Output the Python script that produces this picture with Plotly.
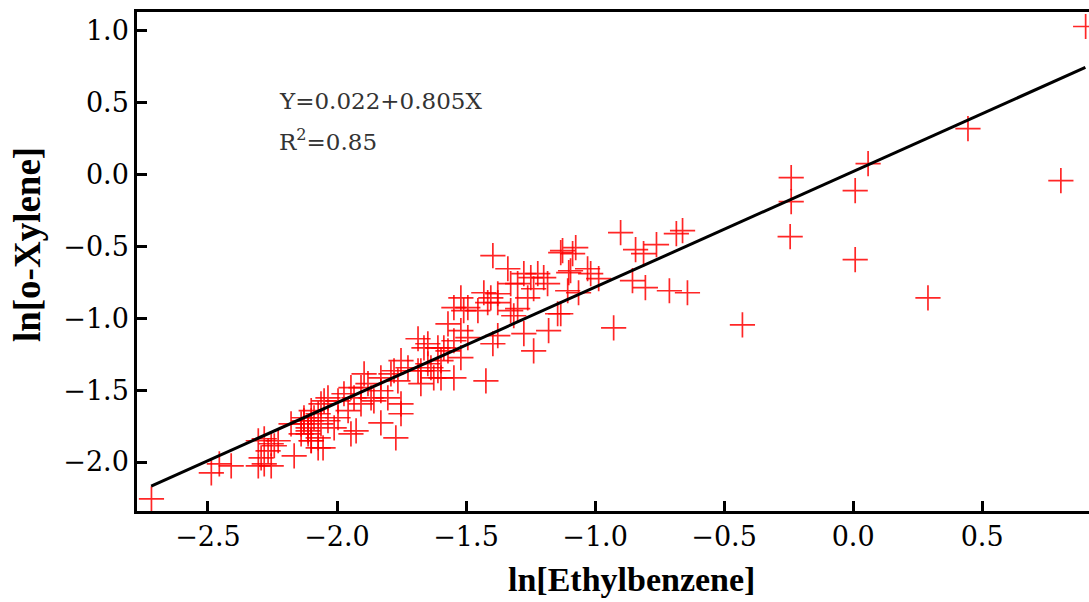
import numpy as np
import plotly.graph_objects as go

# ln[Ethylbenzene] values (x) and ln[o-Xylene] values (y)
ln_ethylbenzene = [
    0.901, 0.445, 0.058, 0.008, 0.008, 0.290, 0.805, -0.240, -0.240, -0.244,
    -0.429, -0.642, -0.661, -0.685, -0.762, -0.901, -0.843, -0.812, -0.855, -0.805,
    -0.712, -0.928, -1.075, -1.087, -1.133, -1.095, -1.029, -1.017, -0.986, -1.106,
    -1.064, -1.133, -1.396, -1.338, -1.126, -1.102, -1.276, -1.249, -1.222, -1.199,
    -1.300, -1.327, -1.184, -1.520, -1.431, -1.404, -1.377, -1.377, -1.416, -1.493,
    -1.509, -1.454, -1.327, -1.300, -1.315, -1.261, -1.238, -1.145, -1.180, -1.238,
    -1.276, -1.377, -1.396, -1.520, -1.493, -1.547, -1.648, -1.609, -1.570, -1.520,
    -1.597, -1.636, -1.675, -1.547, -1.423, -1.625, -1.675, -1.686, -1.586, -1.752,
    -1.725, -1.686, -1.648, -1.609, -1.597, -1.791, -1.764, -1.830, -1.895, -1.880,
    -1.907, -1.946, -1.973, -1.934, -1.868, -1.830, -1.803, -1.752, -2.035, -1.996,
    -2.062, -2.100, -2.089, -2.035, -1.996, -2.011, -2.112, -2.128, -2.139, -2.100,
    -2.073, -1.830, -1.752, -1.772, -1.946, -1.926, -1.907, -1.857, -1.957, -1.547,
    -1.570, -1.663, -1.779, -2.719, -2.487, -2.456, -2.410, -2.305, -2.282, -2.255,
    -2.294, -2.267, -2.243, -2.228, -2.305, -2.282, -2.255, -2.166, -2.178, -2.139,
    -2.128, -2.112, -2.100, -2.054, -2.073, -2.050, -2.073, -2.062, -2.100, -2.112,
]
ln_o_xylene = [
    1.031, 0.320, 0.077, -0.111, -0.592, -0.857, -0.042, -0.021, -0.188, -0.432,
    -1.045, -0.822, -0.390, -0.411, -0.487, -0.404, -0.522, -0.550, -0.738, -0.787,
    -0.808, -1.066, -0.508, -0.550, -0.543, -0.669, -0.655, -0.689, -0.724, -0.808,
    -0.822, -0.968, -0.564, -0.655, -0.529, -0.682, -0.689, -0.717, -0.689, -0.717,
    -0.759, -0.759, -0.759, -0.857, -0.822, -0.857, -0.829, -0.891, -0.891, -0.926,
    -0.947, -0.947, -0.947, -0.933, -0.982, -0.857, -0.794, -0.968, -1.086, -1.226,
    -1.107, -1.121, -1.177, -1.086, -1.135, -1.156, -1.177, -1.205, -1.226, -1.274,
    -1.295, -1.344, -1.365, -1.414, -1.435, -1.414, -1.455, -1.142, -1.205, -1.295,
    -1.344, -1.365, -1.316, -1.365, -1.414, -1.386, -1.435, -1.414, -1.386, -1.455,
    -1.483, -1.483, -1.525, -1.553, -1.553, -1.504, -1.553, -1.595, -1.553, -1.574,
    -1.595, -1.643, -1.692, -1.713, -1.692, -1.762, -1.762, -1.713, -1.804, -1.852,
    -1.901, -1.727, -1.664, -1.832, -1.804, -1.783, -1.595, -1.574, -1.643, -0.926,
    -1.038, -1.205, -1.365, -2.256, -2.075, -2.013, -2.027, -2.027, -2.013, -2.027,
    -1.971, -1.922, -1.887, -1.852, -1.852, -1.838, -1.873, -1.957, -1.734, -1.734,
    -1.692, -1.783, -1.852, -1.901, -1.832, -1.574, -1.664, -1.734, -1.713, -1.804,
]

# Linear fit reported on the chart
fit_intercept = 0.022
fit_slope = 0.805
fit_x_range = [-2.72, 0.90]
fit_label = "Y=0.022+0.805X"
r2_label = "R<sup>2</sup>=0.85"

x_title = "<b>ln[Ethylbenzene]</b>"
y_title = "<b>ln[o-Xylene]</b>"
x_tickvals = [-2.5, -2.0, -1.5, -1.0, -0.5, 0.0, 0.5]
x_ticktext = ["−2.5", "−2.0", "−1.5", "−1.0", "−0.5", "0.0", "0.5"]
y_tickvals = [1.0, 0.5, 0.0, -0.5, -1.0, -1.5, -2.0]
y_ticktext = ["1.0", "0.5", "0.0", "−0.5", "−1.0", "−1.5", "−2.0"]

fit_x = np.array(fit_x_range)
fit_y = fit_intercept + fit_slope * fit_x

fig = go.Figure()
fig.add_trace(go.Scatter(
    x=ln_ethylbenzene, y=ln_o_xylene, mode="markers",
    marker=dict(symbol="cross-thin", size=18, color="red",
                line=dict(color="rgba(255,0,0,0.85)", width=1.7)),
    showlegend=False,
))
fig.add_trace(go.Scatter(
    x=fit_x, y=fit_y, mode="lines",
    line=dict(color="black", width=3), showlegend=False,
))

tick_font = dict(family="DejaVu Serif", size=27, color="black")
title_family = "Liberation Serif"
fig.update_layout(
    width=1089, height=602,
    margin=dict(l=137, r=0, t=12, b=91, autoexpand=False),
    paper_bgcolor="white", plot_bgcolor="white",
    xaxis=dict(
        range=[-2.775, 0.914], tickvals=x_tickvals, ticktext=x_ticktext,
        showgrid=False, zeroline=False, showline=True, linecolor="black",
        linewidth=2.5, mirror=True, ticks="inside", ticklen=10, tickwidth=2.5,
        tickcolor="black", tickfont=tick_font, ticklabelstandoff=0,
        automargin=False,
    ),
    yaxis=dict(
        range=[-2.341, 1.132], tickvals=y_tickvals, ticktext=y_ticktext,
        showgrid=False, zeroline=False, showline=True, linecolor="black",
        linewidth=2.5, ticks="inside", ticklen=10, tickwidth=2.5,
        tickcolor="black", tickfont=tick_font, ticklabelstandoff=0,
        automargin=False,
    ),
    annotations=[
        dict(text=fit_label, xref="paper", yref="paper", x=0.147, y=0.822,
             xanchor="left", yanchor="middle", showarrow=False,
             font=dict(family="DejaVu Serif", size=23, color="#333")),
        dict(text=r2_label, xref="paper", yref="paper", x=0.147, y=0.744,
             xanchor="left", yanchor="middle", showarrow=False,
             font=dict(family="DejaVu Serif", size=23, color="#333")),
        dict(text=x_title, xref="paper", yref="paper", x=0.519, y=-0.138,
             xanchor="center", yanchor="middle", showarrow=False,
             font=dict(family=title_family, size=34, color="black")),
        dict(text=y_title, xref="paper", yref="paper", x=-0.1155, y=0.533,
             xanchor="center", yanchor="middle", showarrow=False, textangle=-90,
             font=dict(family=title_family, size=37, color="black")),
    ],
)

fig.write_html("out.html", config={"displayModeBar": False},
               post_script="document.body.style.margin='0px';")
